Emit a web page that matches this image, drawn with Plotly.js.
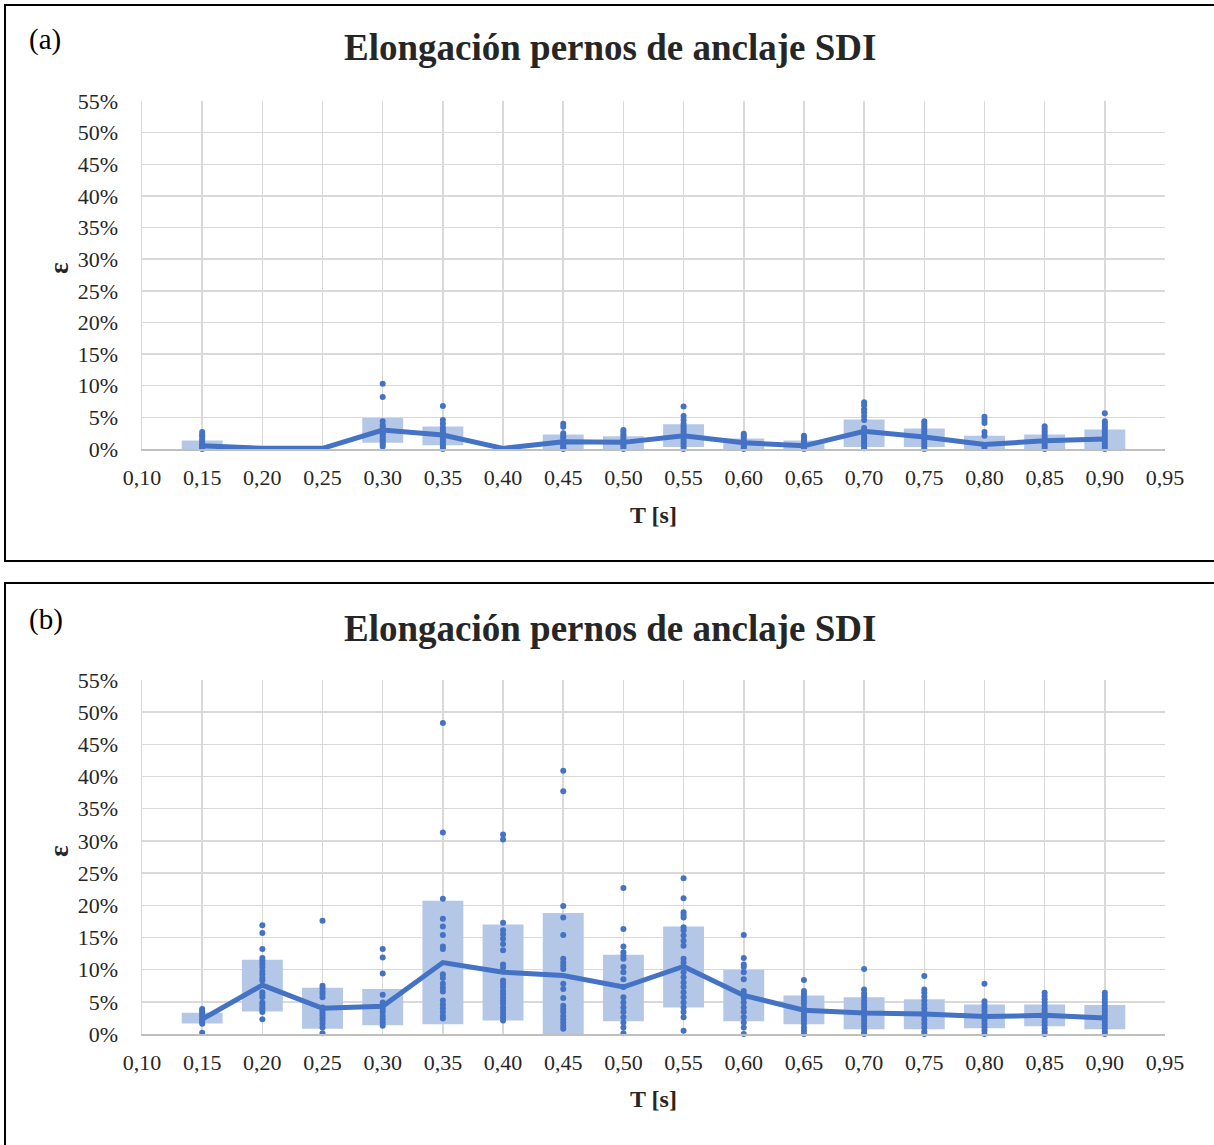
<!DOCTYPE html>
<html>
<head>
<meta charset="utf-8">
<script src="https://cdn.plot.ly/plotly-3.0.1.min.js"></script>
<style>
  html, body { margin: 0; padding: 0; background: #ffffff; }
  #chart { width: 1214px; height: 1145px; }
</style>
</head>
<body>
<div id="chart"></div>
<script>
// Periods T [s]
const periods = [0.15, 0.20, 0.25, 0.30, 0.35, 0.40, 0.45, 0.50, 0.55, 0.60, 0.65, 0.70, 0.75, 0.80, 0.85, 0.90];

// (a) mean elongation and band limits (%)
const meanA = [0.5, 0.1, 0.1, 3.0, 2.2, 0.1, 1.15, 1.05, 2.1, 1.0, 0.5, 2.8, 1.9, 0.7, 1.3, 1.6];
const lowA  = [0, null, null, 1.0, 0.6, null, 0, 0, 0.3, 0, 0, 0.3, 0.3, 0, 0, 0];
const highA = [1.35, null, null, 4.9, 3.55, null, 2.3, 2.0, 3.9, 1.65, 1.35, 4.65, 3.25, 2.1, 2.3, 3.1];

// (a) individual records per period (%)
const pointsA = [
  [2.7, 2.3, 2.0, 1.6, 1.3, 1.0, 0.7, 0.5, 0.3, 0.1, 0.0],
  [],
  [],
  [10.3, 8.2, 4.4, 3.8, 3.5, 3.1, 2.8, 2.5, 2.2, 1.9, 1.6, 1.3, 1.0, 0.7, 0.4],
  [6.8, 4.6, 4.0, 3.4, 3.0, 2.6, 2.3, 1.9, 1.5, 1.2, 0.8, 0.5, 0.2, 0.0],
  [],
  [4.0, 3.5, 2.5, 2.1, 1.8, 1.4, 1.0, 0.7, 0.4, 0.1, 0.0],
  [3.0, 2.7, 2.3, 2.0, 1.6, 1.3, 1.0, 0.6, 0.3, 0.0],
  [6.7, 5.2, 4.6, 4.0, 3.6, 3.2, 2.8, 2.4, 2.0, 1.6, 1.2, 0.8, 0.4, 0.0],
  [2.4, 2.1, 1.8, 1.4, 1.1, 0.8, 0.5, 0.2, 0.0],
  [2.1, 1.8, 1.5, 1.2, 0.9, 0.6, 0.3, 0.0],
  [7.4, 6.9, 6.3, 5.8, 5.2, 4.6, 3.3, 2.9, 2.5, 2.1, 1.7, 1.3, 0.9, 0.5, 0.1],
  [4.4, 4.0, 3.6, 3.2, 2.8, 2.4, 2.0, 1.6, 1.2, 0.8, 0.4, 0.0],
  [5.1, 4.6, 4.1, 2.7, 2.1, 0.6, 0.2],
  [3.6, 3.2, 2.8, 2.4, 2.0, 1.6, 1.2, 0.8, 0.4, 0.0],
  [5.65, 4.4, 4.0, 3.6, 3.2, 2.8, 2.4, 2.0, 1.6, 1.2, 0.8, 0.4, 0.0]
];

// (b) mean elongation and band limits (%)
const meanB = [2.3, 7.6, 4.0, 4.3, 11.1, 9.6, 9.1, 7.3, 10.5, 6.0, 3.7, 3.25, 3.1, 2.7, 2.9, 2.5];
const lowB  = [1.65, 3.5, 0.8, 1.35, 1.5, 2.1, 0, 2.0, 4.1, 2.0, 1.5, 0.75, 0.75, 0.9, 1.2, 0.75];
const highB = [3.3, 11.55, 7.2, 7.0, 20.7, 17.0, 18.8, 12.3, 16.7, 10.0, 6.0, 5.7, 5.4, 4.6, 4.6, 4.5];

// (b) individual records per period (%)
const pointsB = [
  [3.9, 3.6, 3.3, 3.0, 2.7, 2.4, 2.1, 1.9, 1.6, 0.2],
  [16.9, 15.7, 13.2, 11.8, 11.4, 10.9, 10.4, 9.8, 9.3, 8.7, 8.3, 6.5, 6.1, 5.7, 4.9, 4.5, 4.1, 3.8, 3.4, 2.3],
  [17.6, 7.5, 7.1, 6.6, 6.2, 5.7, 4.1, 3.7, 3.3, 2.9, 2.5, 2.1, 1.6, 1.0, 0.1],
  [13.2, 11.9, 9.4, 6.1, 4.9, 4.4, 3.9, 3.4, 2.8, 2.3, 1.8, 1.3],
  [48.3, 31.3, 21.0, 17.9, 16.7, 15.4, 13.6, 13.2, 9.3, 8.7, 7.8, 7.2, 6.6, 5.2, 4.6, 4.0, 3.4, 2.8, 2.4],
  [31.0, 30.2, 17.3, 16.1, 15.5, 14.8, 14.0, 13.0, 10.8, 10.3, 8.3, 7.8, 7.3, 6.7, 6.2, 5.7, 5.2, 4.7, 4.1, 3.6, 3.1, 2.6, 2.1],
  [40.9, 37.7, 19.9, 18.1, 15.4, 11.7, 11.1, 10.6, 10.1, 7.8, 7.0, 5.6, 4.4, 3.9, 3.4, 2.8, 2.3, 1.8, 1.3, 0.8],
  [22.7, 16.3, 13.6, 12.7, 12.2, 11.7, 10.4, 9.6, 8.5, 7.3, 5.7, 4.9, 4.1, 3.4, 2.6, 1.8, 1.0, 0.1],
  [24.2, 21.1, 18.9, 18.5, 18.1, 16.6, 16.1, 15.3, 14.5, 13.7, 11.7, 11.1, 10.5, 9.6, 8.8, 8.0, 7.3, 6.5, 5.7, 4.9, 4.1, 3.4, 2.6, 0.5],
  [15.4, 11.8, 10.8, 10.4, 9.6, 8.5, 6.7, 6.2, 5.6, 4.9, 4.1, 3.4, 2.6, 1.8, 1.0, 0.0],
  [8.4, 6.7, 6.2, 5.7, 5.2, 4.7, 4.1, 3.6, 3.1, 2.6, 2.1, 1.6, 1.0, 0.5, 0.0],
  [10.1, 6.9, 6.3, 5.8, 5.2, 4.7, 4.2, 3.7, 3.2, 2.7, 2.2, 1.7, 1.2, 0.7, 0.2, 0.0],
  [9.0, 6.9, 6.4, 5.8, 5.2, 4.6, 4.0, 3.4, 2.8, 2.2, 1.6, 1.0, 0.4, 0.0],
  [7.8, 5.1, 4.6, 4.1, 3.6, 3.1, 2.6, 2.1, 1.6, 1.1, 0.6, 0.0],
  [6.4, 5.9, 5.4, 4.9, 4.4, 3.9, 3.4, 2.9, 2.4, 1.9, 1.4, 0.9, 0.4, 0.0],
  [6.4, 5.9, 5.4, 4.9, 4.4, 3.9, 3.4, 2.9, 2.4, 1.9, 1.4, 0.9, 0.4, 0.0]
];

const xTicks = [0.10, 0.15, 0.20, 0.25, 0.30, 0.35, 0.40, 0.45, 0.50, 0.55, 0.60, 0.65, 0.70, 0.75, 0.80, 0.85, 0.90, 0.95];
const yTicks = [0, 5, 10, 15, 20, 25, 30, 35, 40, 45, 50, 55];
const yTickText = yTicks.map(v => v + '%');

const chartTitle = 'Elongación pernos de anclaje SDI';
const xTitle = 'T [s]';
const yTitle = 'ε';
const panelTags = ['(a)', '(b)'];

// ---- drawing ----
const W = 1214, H = 1145;
const px = v => v / W;          // horizontal pixel -> paper
const py = v => 1 - v / H;      // vertical pixel -> paper

const SERIF = 'Liberation Serif, Times New Roman, serif';
const BLUE = '#4472c4';
const BAND = '#b4c7e7';
const TXT = '#262626';
const GRID = '#d9d9d9';

function panelTraces(mean, low, high, pts, xa, ya) {
  const bx = [], bb = [], bh = [];
  periods.forEach((t, i) => {
    if (low[i] !== null && high[i] !== null) {
      bx.push(t); bb.push(low[i]); bh.push(high[i] - low[i]);
    }
  });
  const sx = [], sy = [];
  pts.forEach((list, i) => list.forEach(v => { sx.push(periods[i]); sy.push(v); }));
  return [
    { type: 'bar', x: bx, y: bh, base: bb, width: 0.034, xaxis: xa, yaxis: ya,
      marker: { color: BAND, line: { width: 0 } }, hoverinfo: 'skip' },
    { type: 'scatter', mode: 'markers', x: sx, y: sy, xaxis: xa, yaxis: ya,
      marker: { color: BLUE, size: 6 }, cliponaxis: false, hoverinfo: 'skip' },
    { type: 'scatter', mode: 'lines', x: periods, y: mean, xaxis: xa, yaxis: ya,
      line: { color: BLUE, width: 5 }, hoverinfo: 'skip' }
  ];
}

const traces = [
  ...panelTraces(meanA, lowA, highA, pointsA, 'x', 'y'),
  ...panelTraces(meanB, lowB, highB, pointsB, 'x2', 'y2')
];

function xAxis(anchor) {
  return {
    domain: [px(142), px(1165)], anchor: anchor, range: [0.10, 0.95],
    tickvals: xTicks, tickformat: '.2f', ticks: '', ticklabelstandoff: 8,
    showgrid: true, gridcolor: GRID, gridwidth: 1.5,
    showline: true, linecolor: '#bfbfbf', linewidth: 2, zeroline: false,
    tickfont: { family: SERIF, size: 22, color: TXT }, fixedrange: true
  };
}
function yAxis(anchor, top, bottom) {
  return {
    domain: [py(bottom), py(top)], anchor: anchor, range: [0, 55],
    tickmode: 'array', tickvals: yTicks, ticktext: yTickText, ticks: '', ticklabelstandoff: 18,
    showgrid: true, gridcolor: GRID, gridwidth: 1.5,
    showline: true, linecolor: GRID, linewidth: 1.5, zeroline: false,
    tickfont: { family: SERIF, size: 22, color: TXT }, fixedrange: true
  };
}

const annotations = [];
const shapes = [];
const panels = [
  { tag: panelTags[0], titleY: 48, tagY: 39, xtY: 515, ytY: 268, frame: [5, 561] },
  { tag: panelTags[1], titleY: 628, tagY: 619, xtY: 1099, ytY: 851, frame: [583, 1160] }
];
panels.forEach(p => {
  annotations.push({ xref: 'paper', yref: 'paper', x: px(610), y: py(p.titleY), text: '<b>' + chartTitle + '</b>',
    showarrow: false, xanchor: 'center', yanchor: 'middle', font: { family: SERIF, size: 37, color: TXT } });
  annotations.push({ xref: 'paper', yref: 'paper', x: px(27), y: py(p.tagY), text: p.tag,
    showarrow: false, xanchor: 'left', yanchor: 'middle', font: { family: SERIF, size: 29, color: '#000000' } });
  annotations.push({ xref: 'paper', yref: 'paper', x: px(653), y: py(p.xtY), text: '<b>' + xTitle + '</b>',
    showarrow: false, xanchor: 'center', yanchor: 'middle', font: { family: SERIF, size: 24, color: TXT } });
  annotations.push({ xref: 'paper', yref: 'paper', x: px(59), y: py(p.ytY), text: '<b>' + yTitle + '</b>',
    showarrow: false, textangle: -90, xanchor: 'center', yanchor: 'middle', font: { family: SERIF, size: 27, color: TXT } });
  // panel frame
  shapes.push({ type: 'rect', xref: 'paper', yref: 'paper', x0: px(5), x1: px(1240),
    y0: py(p.frame[1]), y1: py(p.frame[0]), line: { color: '#000000', width: 2 }, fillcolor: 'rgba(0,0,0,0)' });
});

const layout = {
  width: W, height: H,
  margin: { l: 0, r: 0, t: 0, b: 0 },
  paper_bgcolor: '#ffffff', plot_bgcolor: '#ffffff',
  showlegend: false, separators: ',.',
  barmode: 'overlay',
  xaxis: xAxis('y'), yaxis: yAxis('x', 101, 449),
  xaxis2: xAxis('y2'), yaxis2: yAxis('x2', 680, 1034),
  annotations: annotations, shapes: shapes
};

Plotly.newPlot('chart', traces, layout, { staticPlot: true, displayModeBar: false });
</script>
</body>
</html>
